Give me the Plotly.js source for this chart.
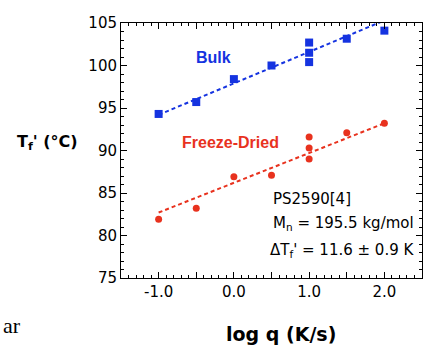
<!DOCTYPE html>
<html><head><meta charset="utf-8">
<script src="https://cdn.plot.ly/plotly-3.0.1.min.js"></script>
<style>html,body{margin:0;padding:0;background:#fff}#c{width:423px;height:345px}</style>
</head><body><div id="c"></div>
<script>
const bulkX = [-1.0, -0.5, 0.0, 0.5, 1.0, 1.0, 1.0, 1.5, 2.0];
const bulkY = [94.3, 95.7, 98.4, 100.0, 102.7, 101.5, 100.4, 103.15, 104.1];
const fdX = [-1.0, -0.5, 0.0, 0.5, 1.0, 1.0, 1.0, 1.5, 2.0];
const fdY = [81.9, 83.2, 86.9, 87.1, 91.6, 90.3, 89.0, 92.1, 93.2];
const fitX = [-1.0, 2.0];
const bulkFit = [94.2, 105.3];
const fdFit = [82.7, 93.2];
const xTickVals = [-1.5, -1.0, -0.5, 0.0, 0.5, 1.0, 1.5, 2.0, 2.5];
const xTickText = ['', '-1.0', '', '0.0', '', '1.0', '', '2.0', ''];
const yTickVals = [75, 80, 85, 90, 95, 100, 105];

const blue = '#1533e0', red = '#e8321e';
const font = 'DejaVu Sans, Arial, sans-serif';

const traces = [
  {x: fitX, y: bulkFit, mode: 'lines', line: {color: blue, dash: '4px,3px', width: 2}, hoverinfo: 'skip'},
  {x: fitX, y: fdFit, mode: 'lines', line: {color: red, dash: '4px,3px', width: 2}, hoverinfo: 'skip'},
  {x: bulkX, y: bulkY, mode: 'markers', marker: {symbol: 'square', size: 8, color: blue}},
  {x: fdX, y: fdY, mode: 'markers', marker: {symbol: 'circle', size: 7, color: red}}
];

const ax = {
  showgrid: false, zeroline: false, showline: true, linecolor: '#000', linewidth: 1,
  mirror: 'allticks', ticks: 'inside', ticklen: 6, tickcolor: '#000', tickwidth: 1,
  tickfont: {family: font, size: 15, color: '#000'}
};

const layout = {
  width: 423, height: 345,
  margin: {l: 121, r: 1, t: 23, b: 67},
  paper_bgcolor: '#fff', plot_bgcolor: '#fff',
  showlegend: false,
  xaxis: Object.assign({}, ax, {range: [-1.5, 2.5], tickmode: 'array', tickvals: xTickVals, ticktext: xTickText,
    minor: {dtick: 0.1, ticks: 'inside', ticklen: 3, tickcolor: '#000'}}),
  yaxis: Object.assign({}, ax, {range: [75, 105], tickmode: 'array', tickvals: yTickVals,
    minor: {dtick: 1, ticks: 'inside', ticklen: 3, tickcolor: '#000'}}),
  annotations: [
    {x: -0.27, y: 100.9, xref: 'x', yref: 'y', text: '<b>Bulk</b>', showarrow: false,
     font: {family: 'Liberation Sans, Arial', size: 16, color: blue}},
    {x: -0.04, y: 90.9, xref: 'x', yref: 'y', text: '<b>Freeze-Dried</b>', showarrow: false,
     font: {family: 'Liberation Sans, Arial', size: 16, color: red}},
    {x: 0.49, y: 84.3, xref: 'x', yref: 'y', xanchor: 'left', yanchor: 'middle', text: 'PS2590[4]', showarrow: false,
     font: {family: font, size: 15, color: '#000'}},
    {x: 0.49, y: 81.4, xref: 'x', yref: 'y', xanchor: 'left', yanchor: 'middle', text: 'M<sub>n</sub> = 195.5 kg/mol', showarrow: false,
     font: {family: font, size: 15, color: '#000'}},
    {x: 0.46, y: 78.2, xref: 'x', yref: 'y', xanchor: 'left', yanchor: 'middle', text: 'ΔT<sub>f</sub>\' = 11.6 ± 0.9 K', showarrow: false,
     font: {family: font, size: 15, color: '#000'}},
    {x: -0.351, y: 0.533, xref: 'paper', yref: 'paper', xanchor: 'left', yanchor: 'middle', text: '<b>T<sub>f</sub>\' (°C)</b>', showarrow: false,
     font: {family: font, size: 16, color: '#000'}},
    {x: 0.533, y: -0.22, xref: 'paper', yref: 'paper', xanchor: 'center', yanchor: 'middle', text: '<b>log q (K/s)</b>', showarrow: false,
     font: {family: font, size: 19, color: '#000'}},
    {x: -0.40, y: -0.188, xref: 'paper', yref: 'paper', xanchor: 'left', yanchor: 'middle', text: 'ar', showarrow: false,
     font: {family: 'Liberation Serif, serif', size: 22, color: '#000'}}
  ]
};

Plotly.newPlot('c', traces, layout, {staticPlot: true, displayModeBar: false});
</script></body></html>
